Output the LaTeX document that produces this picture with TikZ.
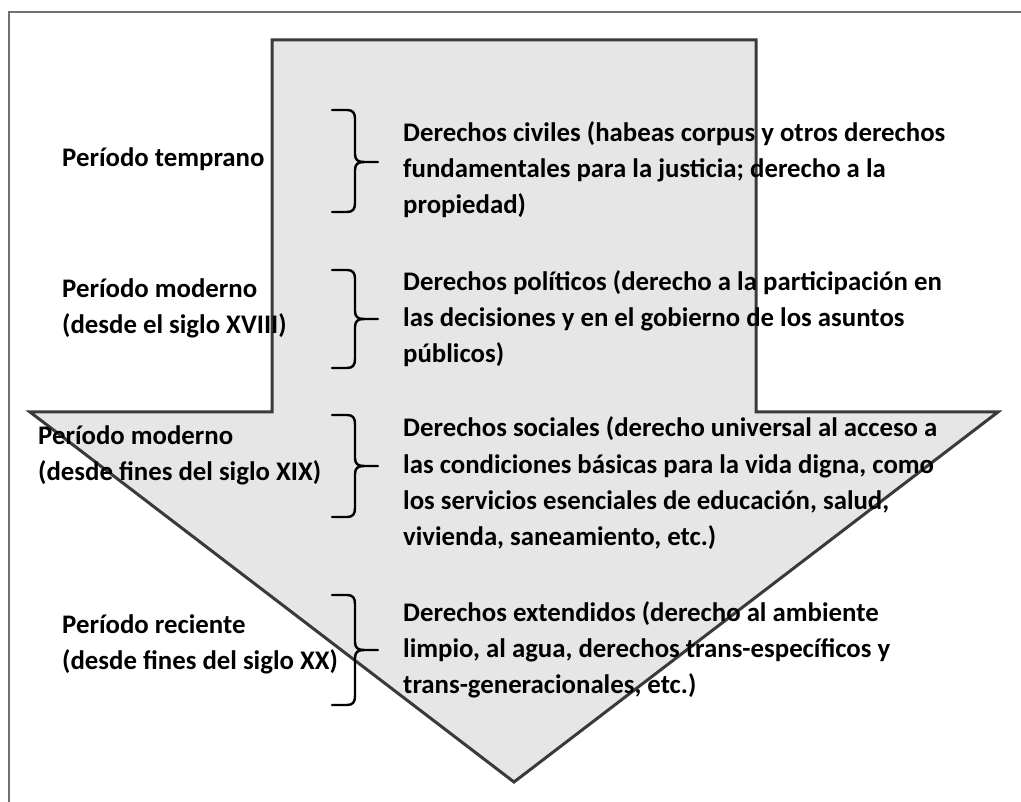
\documentclass[tikz,border=0pt]{standalone}
\usepackage{fontspec}
\setmainfont{Carlito}
\definecolor{arrowfill}{HTML}{E6E6E6}
\definecolor{arrowline}{HTML}{3A3A3A}
\definecolor{framecol}{HTML}{707070}
\newcommand\mybrace[3]{%
  \draw[bracestyle] (332,#1) -- (347,#1) .. controls (353,#1) and (355,#1+3) .. (355,#1+9)
    -- (355,#2-8) .. controls (355,#2-2) and (358,#2) .. (364,#2) -- (378,#2);
  \draw[bracestyle] (332,#3) -- (347,#3) .. controls (353,#3) and (355,#3-3) .. (355,#3-9)
    -- (355,#2+8) .. controls (355,#2+2) and (358,#2) .. (364,#2);
}
\begin{document}
\begin{tikzpicture}[x=1pt,y=-1pt,
  txt/.style={anchor=base west,inner sep=0pt,font=\fontsize{26.8}{32}\selectfont\bfseries},
  bracestyle/.style={line width=2.4pt,black,line cap=round,line join=round},
  arrowshape/.style={fill=arrowfill,draw=arrowline,line width=3pt,line join=miter}]
\useasboundingbox (0,0) rectangle (1021,802);
\fill[white] (0,0) rectangle (1021,802);
\draw[framecol,line width=2pt] (9,802) -- (9,12) -- (1021,12);
\draw[arrowshape] (272,40) -- (756,40) -- (756,412) -- (998,412) -- (514,782)
  -- (30,412) -- (272,412) -- cycle;
% braces
\mybrace{110}{162}{212}
\mybrace{270}{319}{368}
\mybrace{415}{466}{517}
\mybrace{595}{650}{705}
% left labels
\node[txt] (l1) at (62,167) {Período temprano};
\node[txt] (l2a) at (62,298) {Período moderno};
\node[txt] (l2b) at (62,334) {(desde el siglo XVIII)};
\node[txt] (l3a) at (38,445) {Período moderno};
\node[txt] (l3b) at (38,481) {(desde fines del siglo XIX)};
\node[txt] (l4a) at (62,633) {Período reciente};
\node[txt] (l4b) at (62,669) {(desde fines del siglo XX)};
% right texts
\node[txt] (r1a) at (403,142) {Derechos civiles (habeas corpus y otros derechos};
\node[txt] (r1b) at (403,178) {fundamentales para la justicia; derecho a la};
\node[txt] (r1c) at (403,214) {propiedad)};
\node[txt] (r2a) at (403,291) {Derechos políticos (derecho a la participación en};
\node[txt] (r2b) at (403,327) {las decisiones y en el gobierno de los asuntos};
\node[txt] (r2c) at (403,363) {públicos)};
\node[txt] (r3a) at (403,437) {Derechos sociales (derecho universal al acceso a};
\node[txt] (r3b) at (403,473) {las condiciones básicas para la vida digna, como};
\node[txt] (r3c) at (403,509) {los servicios esenciales de educación, salud,};
\node[txt] (r3d) at (403,545) {vivienda, saneamiento, etc.)};
\node[txt] (r4a) at (403,621) {Derechos extendidos (derecho al ambiente};
\node[txt] (r4b) at (403,657) {limpio, al agua, derechos trans-específicos y};
\node[txt] (r4c) at (403,693) {trans-generacionales, etc.)};
\end{tikzpicture}
\end{document}
